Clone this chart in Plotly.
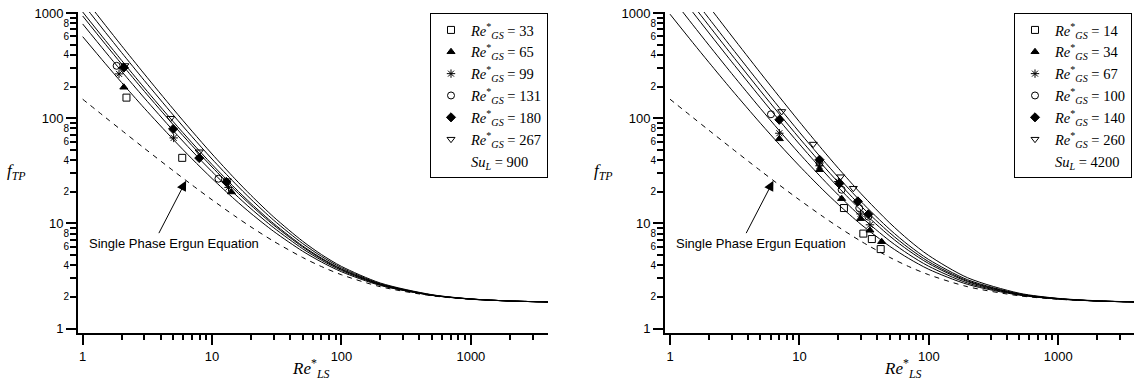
import math
import plotly.graph_objects as go

# ---------------- data ----------------
RE_GRID = [1, 1.5, 2, 3, 5, 7, 10, 15, 20, 30, 50, 70, 100, 200, 500, 1000, 2000, 4000]

ERGUN = [151.75, 101.75, 76.75, 51.75, 31.75, 23.18, 16.75, 11.75, 9.25, 6.75,
         4.75, 3.89, 3.25, 2.50, 2.05, 1.90, 1.83, 1.79]

LEFT_CURVES = [
    [596.8, 329.7, 218.5, 124.4, 63.0, 41.1, 26.7, 16.85, 12.43, 8.38, 5.45, 4.30, 3.47, 2.57, 2.07, 1.905, 1.83, 1.79],
    [787.8, 427.5, 279.4, 155.5, 76.4, 48.8, 31.0, 19.04, 13.79, 9.08, 5.75, 4.47, 3.57, 2.60, 2.07, 1.907, 1.83, 1.79],
    [937.8, 504.4, 327.2, 180.0, 87.0, 54.9, 34.35, 20.76, 14.86, 9.62, 5.99, 4.60, 3.64, 2.63, 2.08, 1.909, 1.83, 1.79],
    [1023.8, 548.4, 354.6, 194.1, 93.0, 58.4, 36.3, 21.75, 15.47, 9.94, 6.12, 4.68, 3.69, 2.64, 2.08, 1.910, 1.83, 1.79],
    [1231.8, 655.0, 420.8, 228.0, 107.6, 66.75, 40.9, 24.14, 16.96, 10.70, 6.45, 4.87, 3.79, 2.67, 2.09, 1.912, 1.83, 1.79],
    [1445.8, 764.5, 489.0, 263.0, 122.7, 75.4, 45.7, 26.6, 18.49, 11.48, 6.79, 5.06, 3.90, 2.71, 2.10, 1.915, 1.83, 1.79],
]

RIGHT_CURVES = [
    [975.8, 523.8, 339.3, 186.2, 89.6, 56.4, 35.2, 21.2, 15.13, 9.76, 6.05, 4.64, 3.66, 2.63, 2.08, 1.909, 1.83, 1.79],
    [1462.8, 773.3, 494.4, 265.7, 123.9, 76.1, 46.1, 26.8, 18.61, 11.54, 6.81, 5.08, 3.91, 2.71, 2.10, 1.915, 1.83, 1.79],
    [1941.8, 1018.6, 647.1, 343.9, 157.5, 95.4, 56.8, 32.3, 22.03, 13.29, 7.57, 5.51, 4.15, 2.79, 2.11, 1.920, 1.83, 1.79],
    [2290.8, 1197.4, 758.3, 400.8, 182.0, 109.5, 64.6, 36.3, 24.52, 14.57, 8.12, 5.83, 4.32, 2.84, 2.13, 1.924, 1.83, 1.79],
    [2699.8, 1406.8, 888.5, 467.6, 210.8, 126.0, 73.8, 40.97, 27.43, 16.07, 8.76, 6.19, 4.53, 2.91, 2.14, 1.929, 1.83, 1.79],
    [3540.8, 1837.6, 1156.5, 604.9, 269.9, 159.9, 92.6, 50.6, 33.44, 19.14, 10.08, 6.95, 4.95, 3.04, 2.17, 1.938, 1.84, 1.79],
]

LEFT_LABELS = ["33", "65", "99", "131", "180", "267"]
LEFT_SU = "900"
LEFT_X = [
    [2.18, 5.88],
    [2.08, 14.1],
    [1.91, 5.05, 13.4],
    [1.83, 11.2],
    [2.08, 5.0, 7.96, 12.9],
    [2.12, 4.79, 7.96, 13.1],
]
LEFT_Y = [
    [157, 42],
    [197, 19.9],
    [264, 65, 22],
    [315, 26.6],
    [303, 79, 41.8, 24.8],
    [317, 100, 48, 25.5],
]

RIGHT_LABELS = ["14", "34", "67", "100", "140", "260"]
RIGHT_SU = "4200"
RIGHT_X = [
    [22.1, 31.2, 36.3, 42.5],
    [7.0, 14.3, 21.2, 29.7, 35.1, 43.2],
    [7.0, 14.3, 20.0, 29.7, 35.1],
    [6.03, 14.3, 21.2, 29.0, 34.1],
    [7.0, 14.3, 20.4, 28.3, 34.1],
    [7.3, 12.8, 20.8, 26.1],
]
RIGHT_Y = [
    [14.0, 8.0, 7.1, 5.7],
    [63.7, 32.4, 17.2, 11.1, 8.6, 6.7],
    [72.0, 35.3, 25.0, 12.3, 9.7],
    [109, 37.4, 20.9, 14.0, 11.6],
    [96.6, 40.3, 24.0, 16.2, 12.2],
    [116, 56.8, 27.8, 21.6],
]

ARROW_RE = 6.3
ARROW_F = 25.5

X_MAJOR = [1, 10, 100, 1000]
X_MINOR = [2, 3, 4, 5, 6, 7, 8, 9, 20, 30, 40, 50, 60, 70, 80, 90,
           200, 300, 400, 500, 600, 700, 800, 900, 2000, 3000]
Y_MAJOR = [1, 10, 100, 1000]
Y_MINOR = [2, 3, 4, 5, 6, 7, 8, 9, 20, 30, 40, 50, 60, 70, 80, 90,
           200, 300, 400, 500, 600, 700, 800, 900]
Y_MINOR_LABELED = [2, 4, 6, 8, 20, 40, 60, 80, 200, 400, 600, 800]
Y_MINOR_TEXT = ["2", "4", "6", "8", "2", "4", "6", "8", "2", "4", "6", "8"]

SYMBOLS = ["square-open", "triangle-up", "asterisk-open", "circle-open", "diamond", "triangle-down-open"]

# ---------------- figure ----------------
W, H = 1134, 381
SANS = "Liberation Sans"
SERIF = "Liberation Serif"

fig = go.Figure()


def add_panel(xa, ya, curves, xs, ys, labels, su, legend_name):
    for c in curves:
        fig.add_trace(go.Scatter(x=RE_GRID, y=c, mode="lines", xaxis=xa, yaxis=ya,
                                 line=dict(color="black", width=1, shape="spline", smoothing=0.8),
                                 showlegend=False, hoverinfo="skip"))
    fig.add_trace(go.Scatter(x=RE_GRID, y=ERGUN, mode="lines", xaxis=xa, yaxis=ya,
                             line=dict(color="black", width=1, dash="5px,5px", shape="spline", smoothing=0.8),
                             showlegend=False, hoverinfo="skip"))
    for i in range(6):
        sym = SYMBOLS[i]
        fig.add_trace(go.Scatter(
            x=xs[i], y=ys[i], mode="markers", xaxis=xa, yaxis=ya,
            marker=dict(symbol=sym, size=7, color="black",
                        line=dict(color="black", width=1)),
            name="<i>Re</i><sup>*</sup><sub><i>GS</i></sub> = " + labels[i],
            legend=legend_name, showlegend=True))
    fig.add_trace(go.Scatter(
        x=[None], y=[None], mode="markers", xaxis=xa, yaxis=ya,
        marker=dict(size=1, color="rgba(0,0,0,0)"),
        name="<i>Su</i><sub><i>L</i></sub> = " + su,
        legend=legend_name, showlegend=True))


add_panel("x", "y", LEFT_CURVES, LEFT_X, LEFT_Y, LEFT_LABELS, LEFT_SU, "legend")
add_panel("x2", "y2", RIGHT_CURVES, RIGHT_X, RIGHT_Y, RIGHT_LABELS, RIGHT_SU, "legend2")

# dummy traces so overlay axes exist
fig.add_trace(go.Scatter(x=[None], y=[None], xaxis="x", yaxis="y3", showlegend=False, hoverinfo="skip"))
fig.add_trace(go.Scatter(x=[None], y=[None], xaxis="x2", yaxis="y4", showlegend=False, hoverinfo="skip"))

XR_L = [-0.036, 3.596]
XR_R = [-0.0386, 3.586]
YR = [-0.042, 3.010]
YDOM = [1 - 333 / H, 1 - 12 / H]


def xaxis(domain, rng, anchor):
    return dict(type="log", range=rng, domain=domain, anchor=anchor,
                showline=True, linecolor="black", linewidth=2, mirror=False,
                ticks="outside", ticklen=10, tickwidth=2, tickcolor="black",
                tickmode="array", tickvals=X_MAJOR, ticktext=[str(v) for v in X_MAJOR],
                tickfont=dict(family=SANS, size=13, color="black"),
                showgrid=False, zeroline=False, automargin=False,
                minor=dict(tickmode="array", tickvals=X_MINOR, ticks="outside",
                           ticklen=5, tickwidth=1.5, tickcolor="black", showgrid=False))


def yaxis(anchor):
    return dict(type="log", range=YR, domain=YDOM, anchor=anchor,
                showline=True, linecolor="black", linewidth=2, mirror=False,
                ticks="outside", ticklen=10, tickwidth=2, tickcolor="black",
                tickmode="array", tickvals=Y_MAJOR, ticktext=[str(v) for v in Y_MAJOR],
                tickfont=dict(family=SANS, size=13, color="black"),
                showgrid=False, zeroline=False, automargin=False,
                minor=dict(tickmode="array", tickvals=Y_MINOR, ticks="outside",
                           ticklen=6, tickwidth=1.5, tickcolor="black", showgrid=False))


def yover(over, anchor):
    return dict(type="log", range=YR, overlaying=over, anchor=anchor, side="left",
                showline=False, ticks="outside", ticklen=6, tickwidth=1.5, tickcolor="black",
                tickmode="array", tickvals=Y_MINOR_LABELED, ticktext=Y_MINOR_TEXT,
                tickfont=dict(family=SANS, size=10, color="black"),
                showgrid=False, zeroline=False, automargin=False)


legend_style = dict(bordercolor="black", borderwidth=1, bgcolor="white",
                    font=dict(family=SERIF, size=14.5, color="black"),
                    itemwidth=30, xanchor="right", yanchor="top", tracegroupgap=0)

fig.update_layout(
    width=W, height=H, margin=dict(l=0, r=0, t=0, b=0),
    paper_bgcolor="white", plot_bgcolor="white",
    xaxis=xaxis([78 / W, 548 / W], XR_L, "y"),
    yaxis=yaxis("x"),
    xaxis2=xaxis([665 / W, 1.0], XR_R, "y2"),
    yaxis2=yaxis("x2"),
    yaxis3=yover("y", "x"),
    yaxis4=yover("y2", "x2"),
    legend=dict(x=548 / W, y=1 - 13 / H, **legend_style),
    legend2=dict(x=1.0 - 2 / W, y=1 - 13 / H, **legend_style),
    showlegend=True,
)

ann = []
for xa, ya, fx, rx, tx in [("x", "y", 16, 311, 174), ("x2", "y2", 603, 903, 761)]:
    ann.append(dict(xref="paper", yref="paper", x=fx / W, y=1 - 172 / H,
                    text="<i>f</i><sub><i>TP</i></sub>", showarrow=False,
                    font=dict(family=SERIF, size=17, color="black"),
                    xanchor="center", yanchor="middle"))
    ann.append(dict(xref="paper", yref="paper", x=rx / W, y=1 - 368 / H,
                    text="<i>Re</i><sup>*</sup><sub><i>LS</i></sub>", showarrow=False,
                    font=dict(family=SERIF, size=17, color="black"),
                    xanchor="center", yanchor="middle"))
    ann.append(dict(xref="paper", yref="paper", x=tx / W, y=1 - 243.5 / H,
                    text="Single Phase Ergun Equation", showarrow=False,
                    font=dict(family=SANS, size=13, color="black"),
                    xanchor="center", yanchor="middle"))
    ann.append(dict(xref=xa, yref=ya, x=math.log10(ARROW_RE), y=math.log10(ARROW_F),
                    text="", showarrow=True, ax=-28, ay=54,
                    arrowhead=2, arrowsize=2.0, arrowwidth=1, arrowcolor="black",
                    standoff=0, startstandoff=0))
fig.update_layout(annotations=ann)

fig.write_html("out.html",
               config={"displayModeBar": False},
               post_script="document.body.style.margin='0px';document.body.style.padding='0px';document.body.style.overflow='hidden';")
